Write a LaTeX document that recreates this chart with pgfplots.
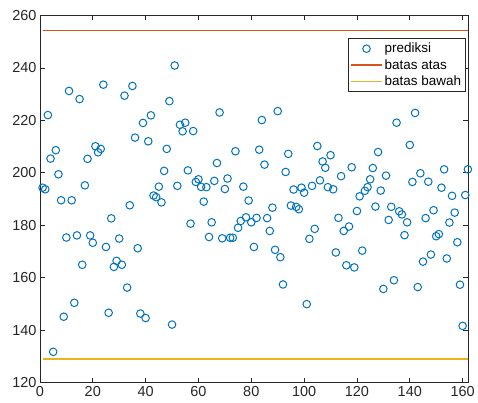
\documentclass[border={9pt 3pt 0pt 7pt}]{standalone}
\usepackage{pgfplots}
\pgfplotsset{compat=1.18}
\usepackage{fontspec}
\setmainfont{Liberation Sans}
\definecolor{mblue}{rgb}{0,0.447,0.741}
\definecolor{lineA}{rgb}{0.85,0.325,0.098}
\definecolor{lineB}{rgb}{0.929,0.694,0.125}
\definecolor{axgray}{rgb}{0.15,0.15,0.15}

\begin{document}
\begin{tikzpicture}
\begin{axis}[
  width=429pt, height=368pt, scale only axis,
  xmin=0, xmax=162, ymin=120, ymax=260,
  xtick={0,20,...,160}, ytick={120,140,...,260},
  tick align=inside, tick pos=both,
  axis line style={axgray, line width=0.6pt},
  major tick style={axgray, line width=0.6pt}, major tick length=5pt,
  ticklabel style={font=\fontsize{14.5}{16}\selectfont, text=axgray},
  /pgf/number format/assume math mode=true,
  legend style={at={(0.995,0.9375)}, anchor=north east, draw=axgray,
    font=\fontsize{13.5}{15}\selectfont, row sep=1pt, inner sep=2.5pt},
  legend cell align=left,
  legend image code/.code={\draw[mark repeat=2,mark phase=2,#1] plot coordinates {(0cm,0cm) (0.55cm,0cm) (1.1cm,0cm)};},
]
\addplot[only marks, mark=o, mark size=3.8pt, color=mblue, line width=1pt] coordinates {
(1,194.3)(2,193.7)(3,222.0)(4,205.4)(5,131.7)(6,208.6)(7,199.4)(8,189.5)(9,145.1)(10,175.3)
(11,231.2)(12,189.5)(13,150.4)(14,176.1)(15,228.1)(16,164.9)(17,195.2)(18,205.3)(19,176.1)(20,173.3)
(21,210.1)(22,207.8)(23,209.1)(24,233.6)(25,171.7)(26,146.6)(27,182.6)(28,164.1)(29,166.4)(30,174.9)
(31,164.9)(32,229.4)(33,156.2)(34,187.6)(35,233.1)(36,213.4)(37,171.2)(38,146.3)(39,219.0)(40,144.6)
(41,212.0)(42,221.9)(43,191.3)(44,190.7)(45,194.7)(46,188.7)(47,200.7)(48,209.1)(49,227.3)(50,142.1)
(51,240.9)(52,195.0)(53,218.3)(54,215.8)(55,219.1)(56,200.9)(57,180.6)(58,215.9)(59,196.5)(60,197.5)
(61,194.6)(62,189.0)(63,194.5)(64,175.5)(65,181.1)(66,196.9)(67,203.7)(68,223.0)(69,175.0)(70,193.8)
(71,197.8)(72,175.2)(73,175.2)(74,208.2)(75,179.0)(76,181.6)(77,194.7)(78,183.0)(79,189.4)(80,181.1)
(81,171.7)(82,182.8)(83,208.8)(84,220.1)(85,203.1)(86,182.7)(87,177.8)(88,186.7)(89,170.6)(90,223.5)
(91,167.8)(92,157.4)(93,200.3)(94,207.2)(95,187.5)(96,193.6)(97,187.0)(98,186.1)(99,194.3)(100,192.4)
(101,149.9)(102,174.8)(103,195.0)(104,178.6)(105,210.2)(106,197.1)(107,204.3)(108,201.9)(109,194.5)(110,206.7)
(111,193.7)(112,169.6)(113,182.8)(114,198.7)(115,177.8)(116,164.7)(117,179.5)(118,202.1)(119,163.9)(120,185.4)
(121,191.0)(122,170.3)(123,193.1)(124,194.5)(125,197.5)(126,201.8)(127,187.1)(128,207.9)(129,193.2)(130,155.7)
(131,198.9)(132,182.0)(133,187.0)(134,159.0)(135,219.1)(136,185.3)(137,184.1)(138,176.2)(139,181.1)(140,210.6)
(141,196.5)(142,222.8)(143,156.4)(144,199.8)(145,166.1)(146,182.7)(147,196.6)(148,168.8)(149,185.7)(150,175.8)
(151,176.6)(152,194.3)(153,201.3)(154,167.3)(155,181.0)(156,191.2)(157,184.8)(158,173.5)(159,157.3)(160,141.6)
(161,191.5)(162,201.3)
};
\addlegendentry{prediksi}
\addplot[color=lineA, line width=1.2pt] coordinates {(1,254.3)(162,254.3)};
\addlegendentry{batas atas}
\addplot[color=lineB, line width=1.2pt] coordinates {(1,129.0)(162,129.0)};
\addlegendentry{batas bawah}
\end{axis}
\end{tikzpicture}
\end{document}
